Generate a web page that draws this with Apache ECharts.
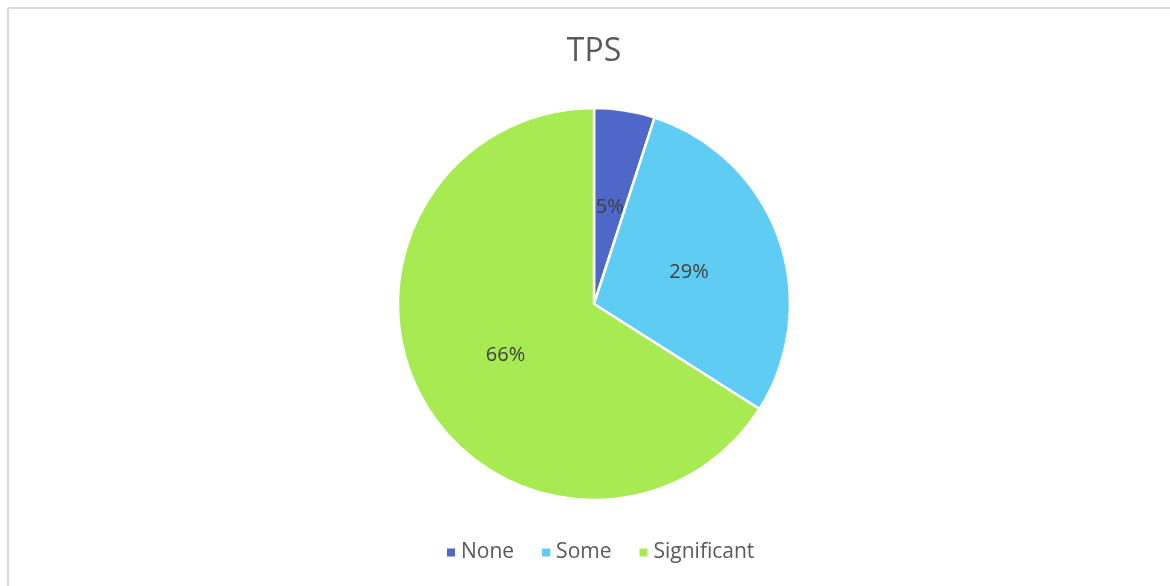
<!DOCTYPE html>
<html>
<head>
<meta charset="utf-8">
<script src="https://cdn.jsdelivr.net/npm/echarts@6/dist/echarts.min.js"></script>
<style>
  html, body { margin: 0; padding: 0; background: #fff; }
  #chart { width: 1170px; height: 586px; }
</style>
</head>
<body>
<div id="chart"></div>
<script>
// Data for the pie
const categories = ['None', 'Some', 'Significant'];
const shares = [5, 29, 66];
const sliceColors = ['#4E67C8', '#5ECCF3', '#A7EA52'];

const FONT = '"Open Sans", "Noto Sans", sans-serif';

const chart = echarts.init(document.getElementById('chart'), null, { renderer: 'canvas' });

const pieData = categories.map((name, i) => ({
    name: name,
    value: shares[i],
    itemStyle: { color: sliceColors[i] }
}));

const option = {
    backgroundColor: '#ffffff',
    animation: false,
    title: {
        text: 'TPS',
        left: 594,
        textAlign: 'center',
        top: 36,
        padding: 0,
        textStyle: { fontFamily: FONT, fontSize: 32, fontWeight: 'normal', color: '#595959' }
    },
    legend: {
        bottom: 18,
        left: 440,
        icon: 'rect',
        itemWidth: 10,
        itemHeight: 10,
        itemGap: 26,
        data: categories,
        textStyle: { fontFamily: FONT, fontSize: 21, color: '#595959' }
    },
    graphic: [
        {
            type: 'line',
            shape: { x1: 8, y1: 8, x2: 1170, y2: 8 },
            style: { stroke: '#D9D9D9', lineWidth: 2 }
        },
        {
            type: 'line',
            shape: { x1: 8, y1: 8, x2: 8, y2: 586 },
            style: { stroke: '#D9D9D9', lineWidth: 2 }
        }
    ],
    series: [
        {
            type: 'pie',
            center: [594, 304],
            radius: 196,
            startAngle: 90,
            clockwise: true,
            data: pieData,
            itemStyle: { borderColor: '#ffffff', borderWidth: 2.5 },
            label: {
                show: true,
                position: 'inside',
                formatter: '{d}%',
                fontFamily: FONT,
                fontSize: 20,
                color: '#404040',
                offset: [0, 3]
            },
            labelLine: { show: false },
            emphasis: { disabled: true }
        }
    ]
};

chart.setOption(option);
</script>
</body>
</html>
